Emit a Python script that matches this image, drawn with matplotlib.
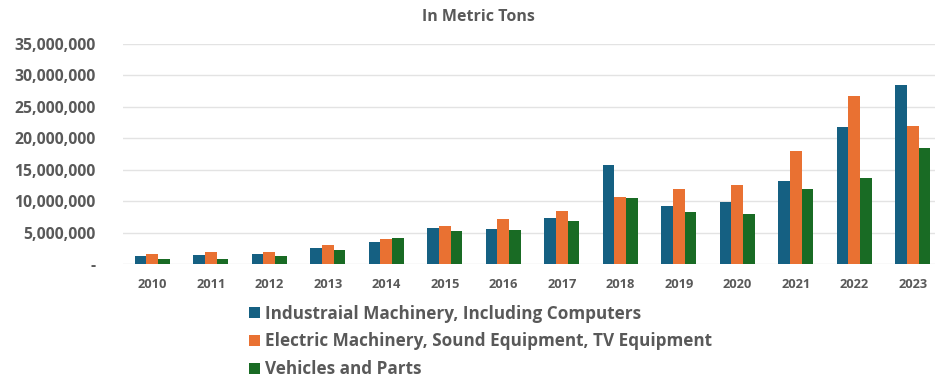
import numpy as np
import matplotlib.pyplot as plt
from matplotlib.ticker import FuncFormatter

years = [str(y) for y in range(2010, 2024)]
industrial = [1.27e6, 1.38e6, 1.6e6, 2.5e6, 3.55e6, 5.65e6, 5.55e6, 7.3e6,
              15.8e6, 9.25e6, 9.85e6, 13.2e6, 21.8e6, 28.4e6]
electric = [1.6e6, 1.95e6, 1.9e6, 3.1e6, 4.0e6, 6.0e6, 7.1e6, 8.5e6,
            10.7e6, 12.0e6, 12.5e6, 18.05e6, 26.8e6, 22.0e6]
vehicles = [0.75e6, 0.75e6, 1.2e6, 2.27e6, 4.1e6, 5.2e6, 5.45e6, 6.8e6,
            10.5e6, 8.3e6, 8.0e6, 11.9e6, 13.65e6, 18.5e6]
labels = [
    "Industraial Machinery, Including Computers",
    "Electric Machinery, Sound Equipment, TV Equipment",
    "Vehicles and Parts",
]
colors = ["#156082", "#E97132", "#196B24"]
grey = "#595959"

plt.rcParams["font.family"] = ["Open Sans", "DejaVu Sans"]

fig = plt.figure(figsize=(9.35, 3.79), dpi=100)
ax = fig.add_axes([123 / 935, 1 - 264 / 379, 819 / 935, 220 / 379])

x = np.arange(len(years))
w = 0.2
for i, (vals, lab, c) in enumerate(zip([industrial, electric, vehicles], labels, colors)):
    ax.bar(x + (i - 1) * w, vals, width=w, color=c, label=lab, zorder=3)

ax.set_xlim(-0.5, len(years) - 0.5)
ax.set_ylim(0, 35e6)
ax.set_yticks(np.arange(0, 35e6 + 1, 5e6))
ax.yaxis.set_major_formatter(FuncFormatter(lambda v, p: "-" if v == 0 else f"{v:,.0f}"))
ax.set_xticks(x)
ax.set_xticklabels(years)
ax.grid(axis="y", color="#e3e3e3", linewidth=1, zorder=0)
for s in ax.spines.values():
    s.set_visible(False)
ax.tick_params(length=0)
ax.tick_params(axis="y", labelsize=11.3, labelcolor=grey, pad=20)
ax.tick_params(axis="x", labelsize=9.3, labelcolor=grey, pad=10)
for t in ax.get_yticklabels() + ax.get_xticklabels():
    t.set_fontweight("bold")

fig.text(0.512, 1 - 17 / 379, "In Metric Tons", ha="center", va="center",
         fontsize=11.5, fontweight="bold", color=grey)

leg = fig.legend(loc="upper left", bbox_to_anchor=(240 / 935, 1 - 296 / 379),
                 frameon=False, ncol=1, handlelength=0.65, handleheight=0.65,
                 handletextpad=0.3, labelspacing=0.58, borderpad=0,
                 prop={"size": 12.3, "weight": "bold"})
for t in leg.get_texts():
    t.set_color(grey)

fig.savefig("out.png", dpi=100)
